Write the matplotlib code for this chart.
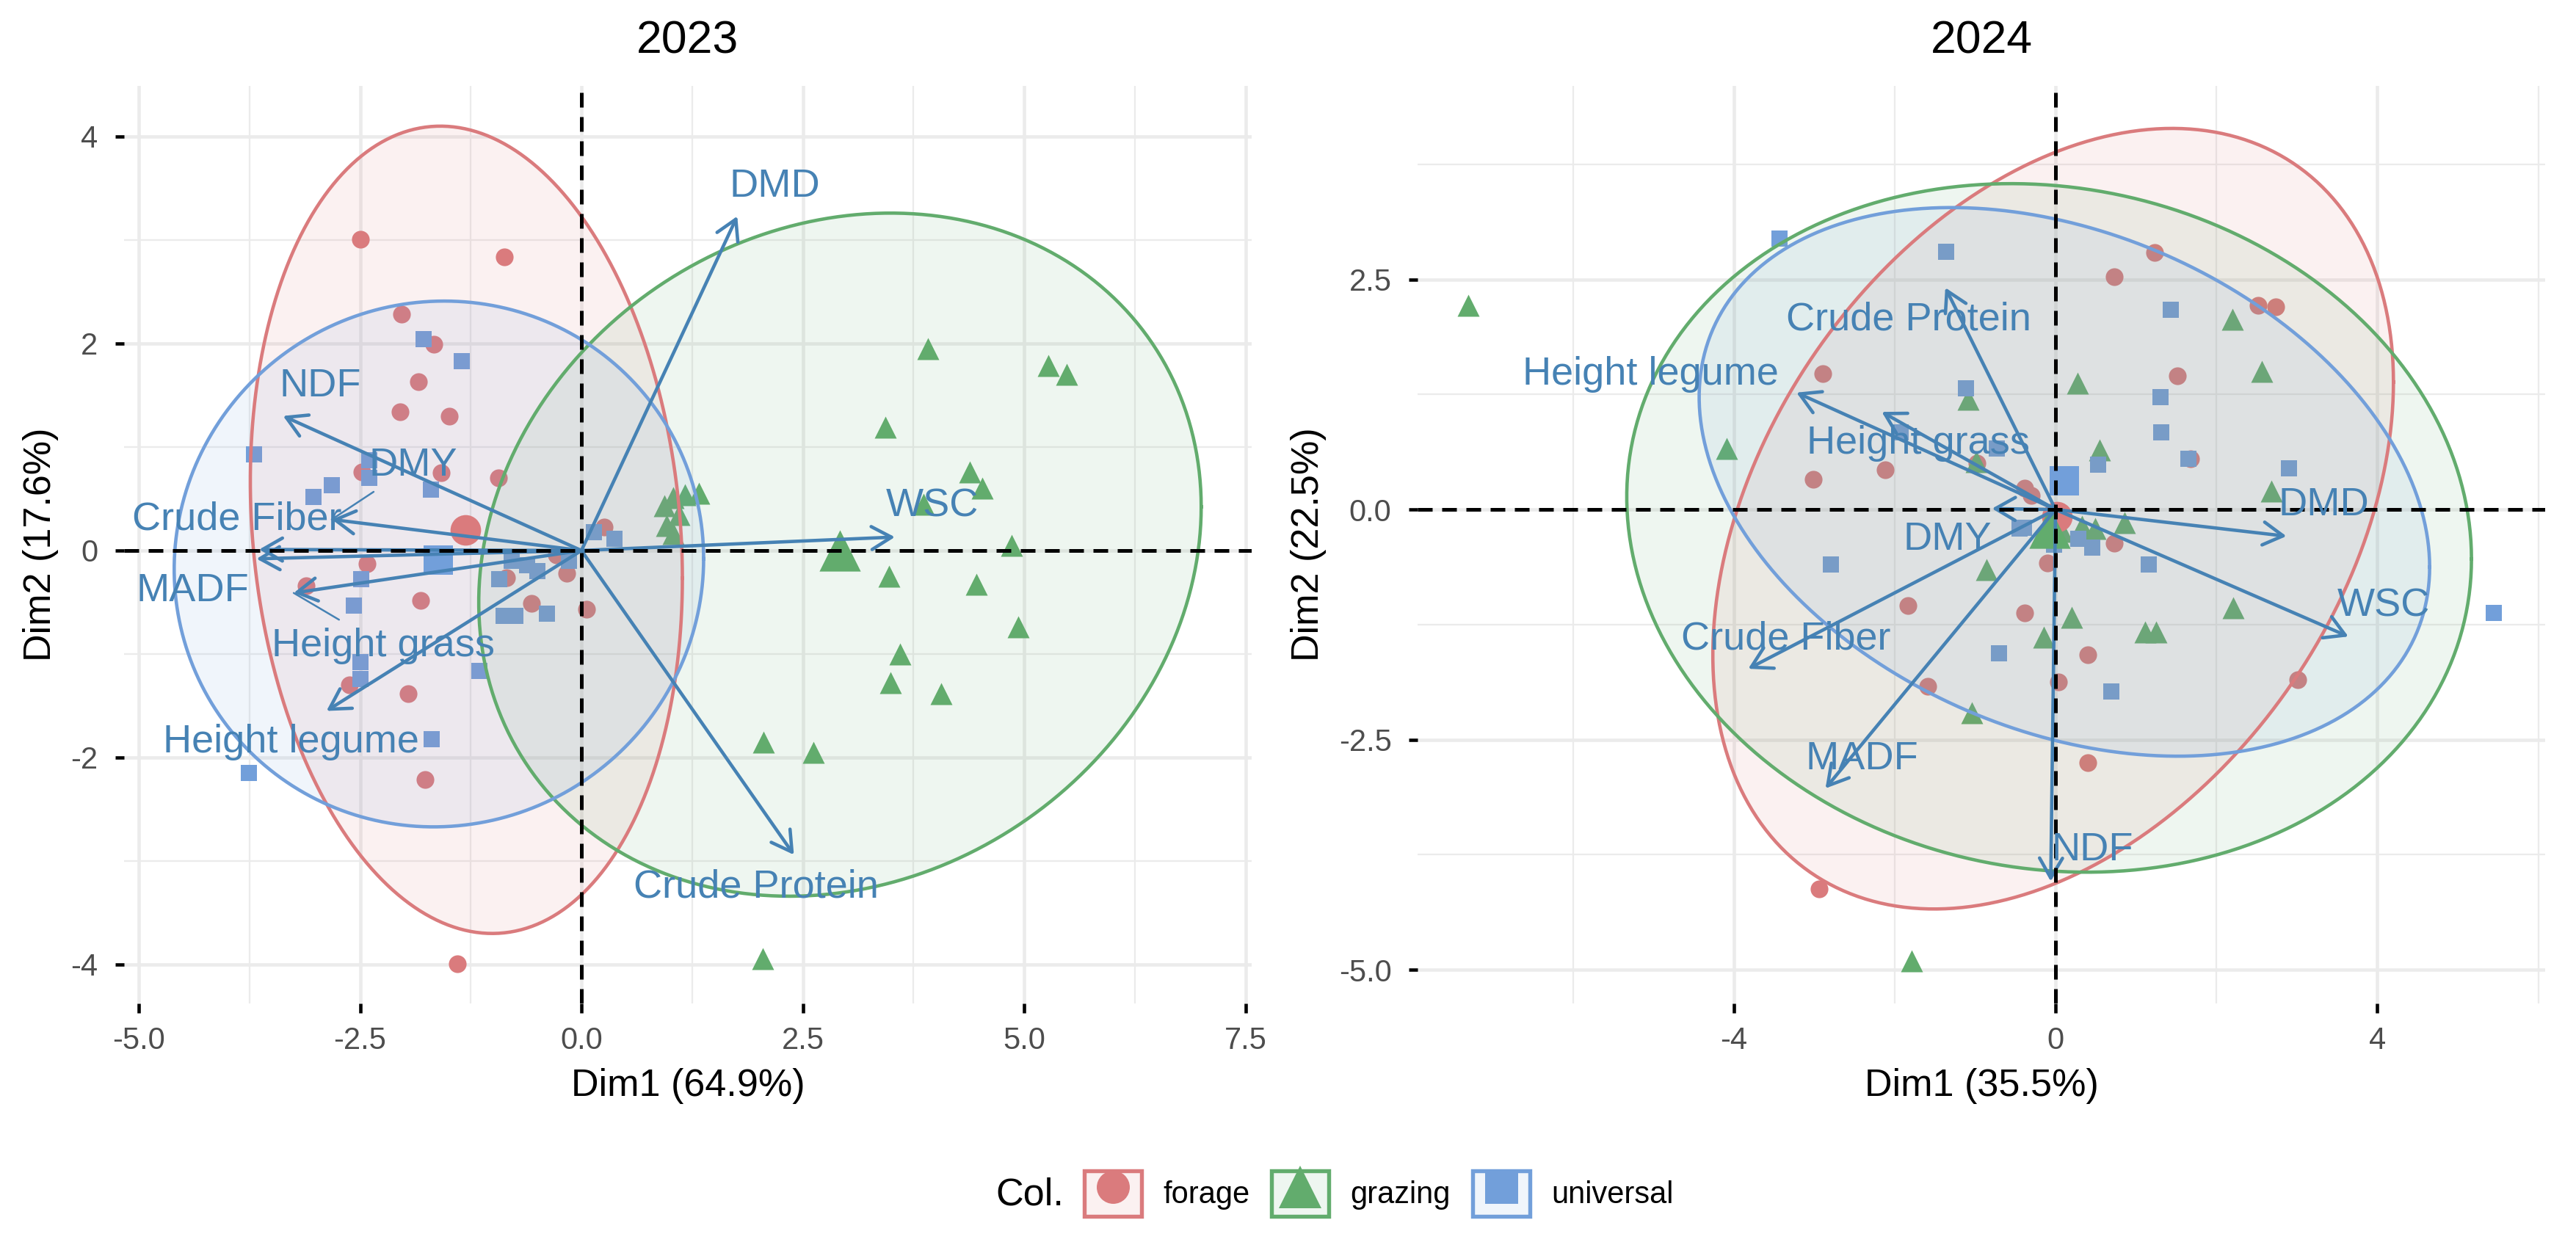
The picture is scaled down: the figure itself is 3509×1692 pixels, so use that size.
import numpy as np
import matplotlib
matplotlib.use("Agg")
import matplotlib.pyplot as plt
from matplotlib.patches import Patch
from matplotlib.lines import Line2D
from matplotlib.colors import to_rgba

plt.rcParams['font.family'] = ['Liberation Sans', 'DejaVu Sans']

# ---------------- data ----------------
groups = ["forage", "grazing", "universal"]
group_colors = ["#DA7B7D", "#62AC6D", "#729FDA"]
group_markers = ["o", "^", "s"]

# 2023 individuals
f23_x = [-2.50, -0.87, -2.03, -1.67, -1.84, -2.05, -1.49, -1.58, -0.94, -2.48, -2.42, -3.11,
         -1.82, -2.62, -1.96, -1.77, -1.40, -0.56, -0.17, 0.06, -0.85, -0.28, 0.26]
f23_y = [3.01, 2.84, 2.28, 1.99, 1.63, 1.34, 1.30, 0.75, 0.70, 0.76, -0.13, -0.34,
         -0.48, -1.30, -1.38, -2.21, -3.99, -0.51, -0.22, -0.57, -0.26, -0.04, 0.23]
g23_x = [3.91, 5.27, 5.48, 3.43, 4.39, 4.53, 3.86, 4.86, 3.47, 4.46, 4.93, 3.60, 3.49, 4.06,
         2.06, 2.62, 2.05, 1.33, 1.17, 1.04, 0.94, 0.96, 1.04, 1.10]
g23_y = [1.95, 1.79, 1.70, 1.19, 0.76, 0.60, 0.45, 0.05, -0.25, -0.33, -0.74, -1.00, -1.28, -1.38,
         -1.85, -1.95, -3.94, 0.55, 0.54, 0.51, 0.43, 0.24, 0.16, 0.35]
u23_x = [-1.78, -1.35, -3.70, -2.82, -3.03, -2.40, -2.40, -1.70, 0.14, 0.37, -2.49, -2.57, -2.50,
         -2.50, -1.15, -1.69, -3.76, -0.93, -0.88, -0.75, -0.39, -0.61, -0.14, -0.79, -0.50]
u23_y = [2.04, 1.83, 0.93, 0.63, 0.52, 0.87, 0.70, 0.59, 0.18, 0.11, -0.28, -0.53, -1.08,
         -1.24, -1.16, -1.82, -2.15, -0.28, -0.63, -0.63, -0.61, -0.14, -0.10, -0.10, -0.20]
mean23_x = [-1.31, 2.92, -1.62]
mean23_y = [0.20, 0.00, -0.09]

# 2023 confidence ellipses (centre, half x-extent, half y-extent, correlation)
ell23_cx = [-1.30, 2.92, -1.61]
ell23_cy = [0.20, -0.04, -0.13]
ell23_hx = [2.44, 4.08, 2.99]
ell23_hy = [3.90, 3.30, 2.54]
ell23_r = [-0.12, 0.14, 0.02]

# 2024 individuals
f24_x = [1.23, 0.73, 2.52, 2.74, 1.51, 1.68, -2.12, -1.83, -0.38, 0.40, -1.59, 0.04, 3.01,
         0.40, 0.73, -0.10, -0.38, -2.89, -3.01, -0.98, -2.94, -0.30]
f24_y = [2.79, 2.53, 2.22, 2.20, 1.45, 0.55, 0.43, -1.04, -1.12, -1.58, -1.92, -1.87, -1.85,
         -2.75, -0.37, -0.58, 0.23, 1.48, 0.33, 0.50, -4.12, 0.15]
g24_x = [-7.30, -4.09, -1.79, 2.20, 2.56, 0.27, -1.09, 0.55, 2.68, 0.86, -0.86, 2.21, 0.20,
         1.11, 1.25, -0.15, -1.04, -0.99, -0.12, 0.08, 0.33, 0.49]
g24_y = [2.22, 0.66, -4.90, 2.07, 1.50, 1.37, 1.20, 0.65, 0.20, -0.14, -0.65, -1.07, -1.17,
         -1.33, -1.33, -1.39, -2.21, 0.52, -0.24, -0.24, -0.18, -0.21]
u24_x = [-1.36, 1.43, 1.30, 1.31, 1.65, 2.90, -1.11, 0.53, 1.16, -0.70, 0.69, 5.45, -0.39,
         0.28, 0.46, -0.02, -3.43, -1.93, -0.73, -2.79, -0.45]
u24_y = [2.80, 2.17, 1.22, 0.84, 0.55, 0.45, 1.32, 0.49, -0.60, -1.56, -1.98, -1.12, -0.20,
         -0.32, -0.41, -0.38, 2.94, 0.84, 0.66, -0.60, -0.21]
mean24_x = [0.02, -0.07, 0.11]
mean24_y = [-0.08, -0.20, 0.31]

ell24_cx = [-0.03, -0.08, 0.11]
ell24_cy = [-0.10, -0.20, 0.30]
ell24_hx = [4.23, 5.25, 4.54]
ell24_hy = [4.24, 3.74, 2.98]
ell24_r = [0.35, -0.09, -0.31]

# variables
var_names = ["DMD", "WSC", "Crude Protein", "NDF", "Crude Fiber", "DMY", "MADF",
             "Height grass", "Height legume"]
v23_x = [1.76, 3.54, 2.40, -3.37, -3.64, -2.82, -3.67, -3.25, -2.88]
v23_y = [3.23, 0.13, -2.94, 1.30, 0.01, 0.30, -0.08, -0.41, -1.55]
lab23_x = [2.18, 3.96, 1.97, -2.95, -3.89, -1.90, -4.39, -2.24, -3.28]
lab23_y = [3.52, 0.43, -3.25, 1.59, 0.30, 0.82, -0.39, -0.92, -1.85]
seg23 = [False, False, False, False, False, True, False, True, False]

v24_x = [2.87, 3.64, -1.37, -0.06, -3.82, -0.79, -2.86, -2.16, -3.22]
v24_y = [-0.29, -1.38, 2.41, -4.04, -1.73, 0.01, -3.03, 1.06, 1.27]
lab24_x = [3.33, 4.08, -1.83, 0.46, -3.35, -1.34, -2.41, -1.71, -5.03]
lab24_y = [0.05, -1.05, 2.06, -3.70, -1.41, -0.33, -2.71, 0.72, 1.47]
seg24 = [False] * 9

titles = ["2023", "2024"]
xlabels = ["Dim1 (64.9%)", "Dim1 (35.5%)"]
ylabels = ["Dim2 (17.6%)", "Dim2 (22.5%)"]
xticks23 = [-5.0, -2.5, 0.0, 2.5, 5.0, 7.5]
xticklabels23 = ["-5.0", "-2.5", "0.0", "2.5", "5.0", "7.5"]
yticks23 = [-4, -2, 0, 2, 4]
yticklabels23 = ["-4", "-2", "0", "2", "4"]
xticks24 = [-4, 0, 4]
xticklabels24 = ["-4", "0", "4"]
yticks24 = [-5.0, -2.5, 0.0, 2.5]
yticklabels24 = ["-5.0", "-2.5", "0.0", "2.5"]

# ---------------- drawing ----------------
W, H = 3509, 1692
fig = plt.figure(figsize=(W / 300, H / 300), dpi=300)

VAR_COLOR = "#4682B4"
small_s = [5.8 ** 2, 7.2 ** 2, 5.5 ** 2]
big_s = [10.0 ** 2, 13.5 ** 2, 9.6 ** 2]


def ellipse_xy(cx, cy, hx, hy, r, n=240):
    t = np.linspace(0, 2 * np.pi, n)
    cov = np.array([[hx * hx, r * hx * hy], [r * hx * hy, hy * hy]])
    L = np.linalg.cholesky(cov)
    p = L @ np.vstack([np.cos(t), np.sin(t)])
    return cx + p[0], cy + p[1]


def panel(ax, pts, means, ells, vx, vy, lx, ly, segs, xlim, ylim,
          xt, xtl, yt, ytl, xminor, yminor, title, xl, yl, ylab_x):
    ax.set_xlim(*xlim)
    ax.set_ylim(*ylim)
    for s in ax.spines.values():
        s.set_visible(False)
    ax.set_xticks(xt)
    ax.set_xticklabels(xtl)
    ax.set_yticks(yt)
    ax.set_yticklabels(ytl)
    ax.set_xticks(xminor, minor=True)
    ax.set_yticks(yminor, minor=True)
    ax.tick_params(which='major', length=3.0, width=1.1, color='black',
                   labelcolor='#4D4D4D', labelsize=10)
    ax.tick_params(axis='x', pad=4.5)
    ax.tick_params(axis='y', pad=5.5)
    ax.tick_params(which='minor', length=0)
    ax.set_axisbelow(True)
    ax.grid(which='major', color='#EBEBEB', lw=1.1)
    ax.grid(which='minor', color='#EBEBEB', lw=0.55)

    for gi in range(3):
        px, py = pts[gi]
        ax.scatter(px, py, s=small_s[gi], marker=group_markers[gi],
                   color=group_colors[gi], linewidths=0, zorder=2)
    for gi in range(3):
        ex, ey = ellipse_xy(ells[0][gi], ells[1][gi], ells[2][gi], ells[3][gi], ells[4][gi])
        ax.fill(ex, ey, color=to_rgba(group_colors[gi], 0.10), lw=0, zorder=3)
        ax.plot(ex, ey, color=group_colors[gi], lw=1.1, zorder=3.1)
    for gi in range(3):
        ax.scatter([means[0][gi]], [means[1][gi]], s=big_s[gi], marker=group_markers[gi],
                   color=group_colors[gi], linewidths=0, zorder=4)

    for i in range(len(vx)):
        ax.annotate("", xy=(vx[i], vy[i]), xytext=(0, 0),
                    arrowprops=dict(arrowstyle='->,head_length=0.65,head_width=0.375',
                                    mutation_scale=10, lw=1.1, color=VAR_COLOR,
                                    shrinkA=0, shrinkB=0), zorder=5)
    ax.axhline(0, color='black', lw=1.2, ls=(0, (4, 2.6)), zorder=6)
    ax.axvline(0, color='black', lw=1.2, ls=(0, (4, 2.6)), zorder=6)
    for i in range(len(vx)):
        if segs[i]:
            ax.annotate(var_names[i], xy=(vx[i], vy[i]), xytext=(lx[i], ly[i]),
                        ha='center', va='center', fontsize=13, color=VAR_COLOR,
                        arrowprops=dict(arrowstyle='-', lw=0.6, color=VAR_COLOR,
                                        shrinkA=1, shrinkB=0), zorder=7)
        else:
            ax.text(lx[i], ly[i], var_names[i], ha='center', va='center',
                    fontsize=13, color=VAR_COLOR, zorder=7)

    ax.text(0.5, 1.0488, title, transform=ax.transAxes, ha='center', va='center',
            fontsize=15, color='black')
    ax.set_xlabel(xl, fontsize=12.5, color='black', va='center')
    ax.xaxis.set_label_coords(0.5, -0.0896)
    ax.set_ylabel(yl, fontsize=12.5, color='black', va='center', rotation=90)
    ax.yaxis.set_label_coords(ylab_x, 0.5)


ax_bottom = 1 - 1367 / H
ax_height = (1367 - 117) / H
ax_width = (1705 - 169) / W

ax1 = fig.add_axes([169 / W, ax_bottom, ax_width, ax_height])
panel(ax1,
      [(f23_x, f23_y), (g23_x, g23_y), (u23_x, u23_y)],
      (mean23_x, mean23_y),
      (ell23_cx, ell23_cy, ell23_hx, ell23_hy, ell23_r),
      v23_x, v23_y, lab23_x, lab23_y, seg23,
      (-5.166, 7.570), (-4.376, 4.489),
      xticks23, xticklabels23, yticks23, yticklabels23,
      [-3.75, -1.25, 1.25, 3.75, 6.25], [-3, -1, 1, 3],
      titles[0], xlabels[0], ylabels[0], -0.0736)

ax2 = fig.add_axes([1931 / W, ax_bottom, ax_width, ax_height])
panel(ax2,
      [(f24_x, f24_y), (g24_x, g24_y), (u24_x, u24_y)],
      (mean24_x, mean24_y),
      (ell24_cx, ell24_cy, ell24_hx, ell24_hy, ell24_r),
      v24_x, v24_y, lab24_x, lab24_y, seg24,
      (-7.93, 6.086), (-5.366, 4.602),
      xticks24, xticklabels24, yticks24, yticklabels24,
      [-6, -2, 2, 6], [-3.75, -1.25, 1.25, 3.75],
      titles[1], xlabels[1], ylabels[1], -0.0964)

# legend
leg_ms = [10.8, 14.0, 10.8]
handles = []
for gi in range(3):
    box = Patch(facecolor=to_rgba(group_colors[gi], 0.10), edgecolor=group_colors[gi], lw=1.3)
    mk = Line2D([], [], marker=group_markers[gi], ls='none', color=group_colors[gi],
                markersize=leg_ms[gi], markeredgewidth=0)
    handles.append((box, mk))
fig.legend(handles, groups, loc='center left', bbox_to_anchor=(1477 / W, 1 - 1626 / H),
           ncol=3, frameon=False, fontsize=10, handlelength=1.87, handleheight=1.92,
           handletextpad=0.7, columnspacing=0.72, borderpad=0, borderaxespad=0)
fig.text(1356 / W, 1 - 1628 / H, "Col.", ha='left', va='center', fontsize=12.5, color='black')

fig.savefig("out.png", dpi=300)
